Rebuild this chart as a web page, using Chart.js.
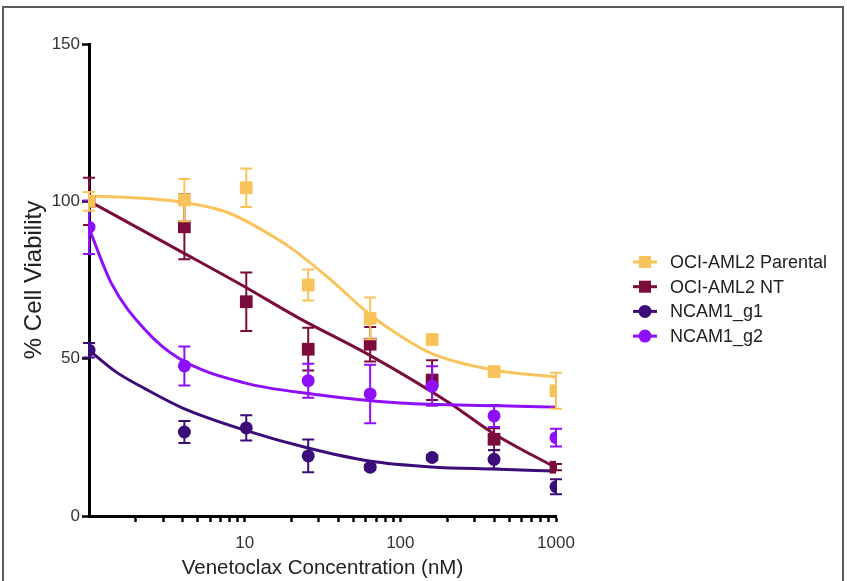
<!DOCTYPE html>
<html>
<head>
<meta charset="utf-8">
<script src="https://cdn.jsdelivr.net/npm/chart.js@4.4.1/dist/chart.umd.min.js"></script>
<style>
  html, body { margin: 0; padding: 0; background: #fff; }
  #wrap { position: relative; width: 847px; height: 581px; overflow: hidden; }
  #frame { position: absolute; left: 2px; top: 6px; width: 838px; height: 600px; border: 2px solid #5c5c5c; pointer-events: none; }
  canvas { position: absolute; left: 0; top: 0; }
</style>
</head>
<body>
<div id="wrap">
  <canvas id="myChart" width="847" height="581"></canvas>
  <div id="frame"></div>
</div>
<script>
// concentrations (nM)
const concentrations = [1, 4.1, 10.24, 25.6, 64, 160, 400, 1000];

// mean % viability and error per concentration
const parental = [100, 100.4, 104.3, 73.4, 62.8, 56.1, 45.9, 39.8];
const parentalErr = [3, 6.7, 6.1, 4.9, 6.6, 1.5, 1.5, 5.7];
const nt = [100, 91.9, 68.1, 53, 54.6, 43.2, 24.4, 15.5];
const ntErr = [7.5, 10.3, 9.3, 6.8, 5.5, 6.3, 3.5, 1];
const g1 = [52.7, 26.7, 28, 19.1, 15.5, 18.6, 18, 9.3];
const g1Err = [2.3, 3.5, 4, 5.2, 0.8, 0.8, 3, 2.4];
const g2 = [91.8, 47.7, null, 43, 38.8, 41.3, 31.8, 24.9];
const g2Err = [8.5, 6.2, 0, 5.4, 9.3, 6.3, 3.5, 2.8];

// fitted curves
const parentalFitX = [1, 1.8, 3.75, 7.9, 16.6, 22.3, 36.4, 63, 100, 161, 392, 1000];
const parentalFitY = [101.7, 101.2, 99.9, 96.3, 87.7, 83.3, 74.7, 64.2, 57.2, 51.5, 46.4, 44.2];
const ntFitX = [1, 3.75, 9.56, 22.3, 63, 207, 392, 1000];
const ntFitY = [100.1, 84.5, 73.4, 62.9, 51.2, 35.9, 26.4, 15.3];
const g1FitX = [1, 1.49, 2.3, 4, 10, 25.5, 63, 158, 392, 1000];
const g1FitY = [52.7, 45.8, 40.4, 34.3, 27.3, 21.6, 17.5, 15.6, 14.9, 14.3];
const g2FitX = [1, 1.39, 2.3, 3.75, 10, 27, 100, 435, 1000];
const g2FitY = [91.5, 74, 59.1, 50.2, 42.3, 38.8, 35.9, 35, 34.6];

const seriesNames = ["OCI-AML2 Parental", "OCI-AML2 NT", "NCAM1_g1", "NCAM1_g2"];
const xTickValues = [2, 3, 4, 5, 6, 7, 8, 9, 10, 20, 30, 40, 50, 60, 70, 80, 90, 100,
  200, 300, 400, 500, 600, 700, 800, 900, 1000];
const xTickLabels = ["10", "100", "1000"];
const yTickValues = [0, 50, 100, 150];

const colors = ["#f9c35b", "#7b0b3b", "#3c0d78", "#8e0ff9"];
const shapes = ["rect", "rect", "circle", "circle"];

Chart.defaults.font.family = "Arial, 'Liberation Sans', Helvetica, sans-serif";
Chart.defaults.color = "#222";

const pairs = (xs, ys) => xs.map((x, i) => ({ x: x, y: ys[i] }));

const means = [parental, nt, g1, g2];
const errs = [parentalErr, ntErr, g1Err, g2Err];
const fits = [[parentalFitX, parentalFitY], [ntFitX, ntFitY], [g1FitX, g1FitY], [g2FitX, g2FitY]];
const pointOrder = [0, 3, 2, 1];
const lineOrder = [7, 6, 4, 5];

const datasets = [];
seriesNames.forEach((name, i) => {
  datasets.push({
    label: name,
    data: pairs(concentrations, means[i]),
    errors: errs[i],
    showLine: false,
    backgroundColor: colors[i],
    borderColor: colors[i],
    pointStyle: shapes[i],
    pointRadius: shapes[i] == "rect" ? 9 : 6.5,
    pointBorderWidth: 0,
    order: pointOrder[i],
  });
});
seriesNames.forEach((name, i) => {
  datasets.push({
    label: name + " fit",
    data: pairs(fits[i][0], fits[i][1]),
    showLine: true,
    borderColor: colors[i],
    borderWidth: 3,
    pointRadius: 0,
    cubicInterpolationMode: "monotone",
    order: lineOrder[i],
  });
});

// error bars under each point set
const errorBars = {
  id: "errorBars",
  beforeDatasetDraw(chart, args) {
    const ds = chart.data.datasets[args.index];
    if (!ds.errors) return;
    const ctx = chart.ctx;
    const xs = chart.scales.x;
    const ys = chart.scales.y;
    ctx.save();
    ctx.strokeStyle = ds.borderColor;
    ctx.lineWidth = 2;
    ds.data.forEach((p, i) => {
      const e = ds.errors[i];
      if (p.y == null || !e) return;
      const px = xs.getPixelForValue(p.x);
      const top = ys.getPixelForValue(p.y + e);
      const bot = ys.getPixelForValue(p.y - e);
      ctx.beginPath();
      ctx.moveTo(px, top);
      ctx.lineTo(px, bot);
      ctx.moveTo(px - 6, top);
      ctx.lineTo(px + 6, top);
      ctx.moveTo(px - 6, bot);
      ctx.lineTo(px + 6, bot);
      ctx.stroke();
    });
    ctx.restore();
  },
};

// legend on the right, line with marker
const sideLegend = {
  id: "sideLegend",
  afterDraw(chart) {
    const { ctx, chartArea } = chart;
    const x0 = chartArea.right + 77;
    let y = chartArea.top + 218;
    chart.data.datasets.filter((d) => d.errors).forEach((ds) => {
      ctx.save();
      ctx.strokeStyle = ds.borderColor;
      ctx.fillStyle = ds.backgroundColor;
      ctx.lineWidth = 3;
      ctx.beginPath();
      ctx.moveTo(x0, y);
      ctx.lineTo(x0 + 24, y);
      ctx.stroke();
      if (ds.pointStyle == "rect") {
        ctx.fillRect(x0 + 6, y - 6, 12, 12);
      } else {
        ctx.beginPath();
        ctx.arc(x0 + 12, y, 6.5, 0, Math.PI * 2);
        ctx.fill();
      }
      ctx.fillStyle = "#222";
      ctx.font = "18px Arial, 'Liberation Sans', sans-serif";
      ctx.textBaseline = "middle";
      ctx.fillText(ds.label, x0 + 37, y + 1);
      ctx.restore();
      y += 24.7;
    });
  },
};

const config = {
  type: "scatter",
  data: { datasets: datasets },
  options: {
    responsive: false,
    animation: false,
    layout: {
      padding: { left: 0, top: 44, right: 291, bottom: 0 },
    },
    plugins: {
      legend: { display: false },
      tooltip: { enabled: false },
    },
    scales: {
      x: {
        type: "logarithmic",
        min: 1,
        max: 1000,
        afterFit(scale) {
          scale.height = 65;
        },
        afterBuildTicks(scale) {
          scale.ticks = xTickValues.map((v) => ({ value: v }));
        },
        ticks: {
          autoSkip: false,
          maxRotation: 0,
          padding: 11,
          color: "#333",
          font: { size: 17 },
          callback: (v) => (xTickLabels.includes(String(v)) ? String(v) : ""),
        },
        grid: { drawOnChartArea: false, tickLength: 6, tickWidth: 2.5, tickColor: "#000" },
        border: { color: "#000", width: 3 },
        title: {
          display: true,
          text: "Venetoclax Concentration (nM)",
          color: "#222",
          font: { size: 20.5 },
          padding: { top: 0, bottom: 0 },
        },
      },
      y: {
        min: 0,
        max: 150,
        afterFit(scale) {
          scale.width = 89;
        },
        afterBuildTicks(scale) {
          scale.ticks = yTickValues.map((v) => ({ value: v }));
        },
        ticks: { padding: 2, color: "#333", font: { size: 17 } },
        grid: { drawOnChartArea: false, tickLength: 7, tickWidth: 2.5, tickColor: "#000" },
        border: { color: "#000", width: 3 },
        title: {
          display: true,
          text: "% Cell Viability",
          color: "#222",
          font: { size: 24 },
          padding: { top: 20, bottom: 0 },
        },
      },
    },
  },
  plugins: [errorBars, sideLegend],
};

const myChart = new Chart(document.getElementById("myChart"), config);
</script>
</body>
</html>
